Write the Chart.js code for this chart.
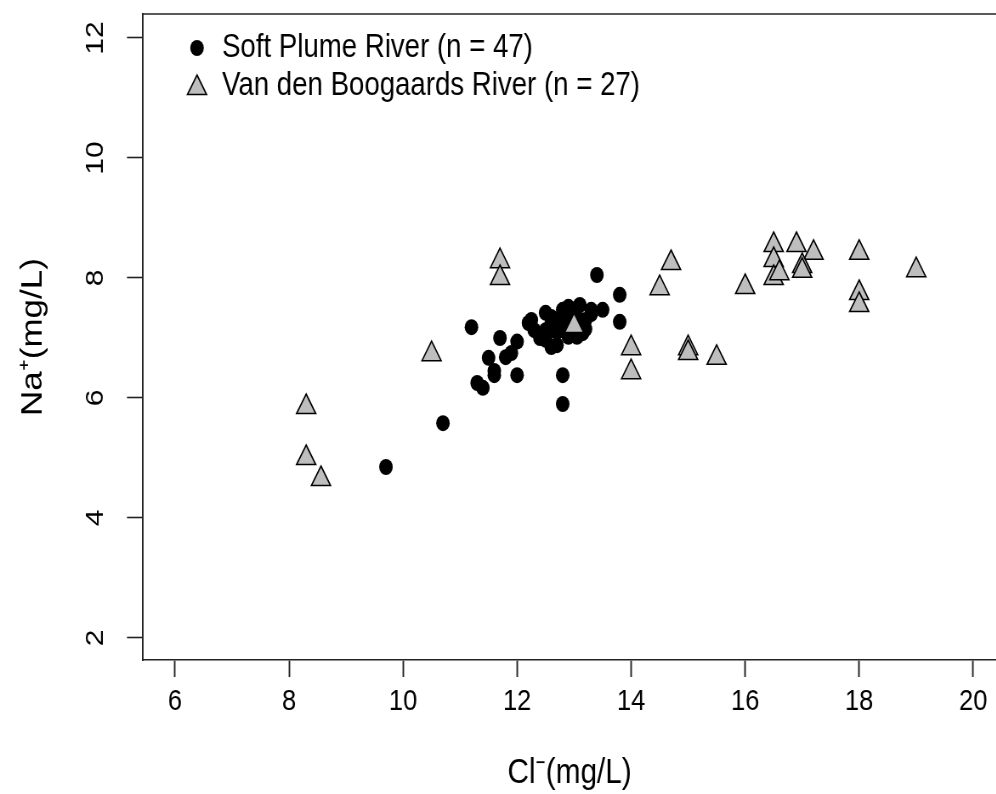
<!DOCTYPE html>
<html>
<head>
<meta charset="utf-8">
<title>Na vs Cl</title>
<script src="https://cdn.jsdelivr.net/npm/chart.js@4.4.1/dist/chart.umd.min.js"></script>
<style>
  html, body { margin: 0; padding: 0; background: #fff; overflow: hidden; width: 996px; height: 794px; }
  /* the plot is laid out wide and then narrowed to 996px */
  #wrap { width: 1172px; height: 794px; transform: scaleX(0.85); transform-origin: 0 0; }
</style>
</head>
<body>
<div id="wrap"><canvas id="myChart" width="1172" height="794"></canvas></div>
<script>
// Soft Plume River samples: Cl- (x) and Na+ (y), mg/L
var softX = [9.7, 10.7, 11.2, 11.3, 11.4, 11.5, 11.6, 11.6, 11.7, 11.8,
  11.9, 12.0, 12.0, 12.25, 12.3, 12.5, 12.6, 12.5, 12.6, 12.5,
  12.5, 12.8, 12.9, 13.1, 13.3, 13.2, 13.15, 13.05, 12.8, 12.8,
  12.8, 13.4, 13.8, 13.8, 13.5, 12.7, 12.9, 13.0, 13.2, 12.4,
  12.7, 13.0, 12.6, 13.3, 12.2, 12.9, 13.1];
var softY = [4.85, 5.58, 7.18, 6.25, 6.17, 6.67, 6.45, 6.38, 7.0, 6.68,
  6.75, 6.94, 6.38, 7.3, 7.13, 7.42, 7.25, 6.97, 6.85, 7.02,
  7.13, 7.47, 7.52, 7.55, 7.47, 7.3, 7.08, 7.02, 7.3, 6.38,
  5.9, 8.05, 7.72, 7.27, 7.47, 6.88, 7.2, 7.4, 7.15, 7.0,
  7.1, 7.1, 7.35, 7.4, 7.25, 7.02, 7.3];

// Van den Boogaards River samples
var vdbX = [8.3, 8.3, 8.56, 10.5, 11.7, 11.7, 13.0, 14.5, 14.7, 14.0,
  14.0, 15.0, 15.0, 15.5, 16.0, 16.5, 16.5, 16.5, 16.6, 16.9,
  17.2, 17.0, 17.0, 18.0, 18.0, 18.0, 19.0];
var vdbY = [5.85, 5.0, 4.65, 6.73, 8.28, 8.0, 7.2, 7.83, 8.25, 6.83,
  6.43, 6.83, 6.75, 6.67, 7.85, 8.55, 8.3, 8.0, 8.08, 8.55,
  8.42, 8.2, 8.12, 8.42, 7.75, 7.55, 8.13];

var seriesNames = ['Soft Plume River (n = 47)', 'Van den Boogaards River (n = 27)'];
var xTickValues = [6, 8, 10, 12, 14, 16, 18, 20];
var yTickValues = [2, 4, 6, 8, 10, 12];

var FONT = '"Liberation Sans", Arial, sans-serif';
var TRI_GREY = '#bebebe';
var SX = 0.85; // horizontal squeeze applied by #wrap

function toPoints(xs, ys) {
  return xs.map(function (x, i) { return { x: x, y: ys[i] }; });
}

function drawTriangle(ctx, x, y, r) {
  ctx.beginPath();
  for (var k = 0; k < 3; k++) {
    var a = k * 2 * Math.PI / 3;
    var px = x + Math.sin(a) * r, py = y - Math.cos(a) * r;
    if (k === 0) ctx.moveTo(px, py); else ctx.lineTo(px, py);
  }
  ctx.closePath();
  ctx.fillStyle = TRI_GREY;
  ctx.fill();
  ctx.lineWidth = 1.6;
  ctx.strokeStyle = '#000';
  ctx.stroke();
}

// box top line + key in the upper-left corner
var boxAndKey = {
  id: 'boxAndKey',
  afterDraw: function (chart) {
    var ctx = chart.ctx, a = chart.chartArea;
    ctx.save();
    ctx.strokeStyle = '#222';
    ctx.lineWidth = 1.6;
    ctx.beginPath();
    ctx.moveTo(a.left, a.top);
    ctx.lineTo(a.right, a.top);
    ctx.stroke();

    var kx = a.left + 54 / SX, ky = a.top + 34, gap = 38;
    ctx.fillStyle = '#000';
    ctx.beginPath();
    ctx.arc(kx, ky, 8, 0, Math.PI * 2);
    ctx.fill();
    drawTriangle(ctx, kx, ky + gap + 2, 13);

    ctx.fillStyle = '#000';
    ctx.font = '32.5px ' + FONT;
    ctx.textBaseline = 'middle';
    ctx.textAlign = 'left';
    ctx.fillText(seriesNames[0], kx + 25 / SX, ky);
    ctx.fillText(seriesNames[1], kx + 25 / SX, ky + gap);
    ctx.restore();
  }
};

function noPad(scale) {
  scale.paddingLeft = 0;
  scale.paddingRight = 0;
  scale.paddingTop = 0;
  scale.paddingBottom = 0;
}

var ctx = document.getElementById('myChart');
var myChart = new Chart(ctx, {
  type: 'scatter',
  data: {
    datasets: [{
      label: seriesNames[1],
      data: toPoints(vdbX, vdbY),
      pointStyle: 'triangle',
      pointRadius: 13,
      backgroundColor: TRI_GREY,
      borderColor: '#000',
      borderWidth: 1.6,
      order: 0
    }, {
      label: seriesNames[0],
      data: toPoints(softX, softY),
      pointStyle: 'circle',
      pointRadius: 8,
      backgroundColor: '#000',
      borderColor: '#000',
      borderWidth: 0,
      order: 1
    }]
  },
  options: {
    responsive: false,
    animation: false,
    devicePixelRatio: 1,
    layout: { autoPadding: false, padding: { top: 14, right: 0, left: 0, bottom: 0 } },
    plugins: {
      legend: { display: false },
      tooltip: { enabled: false }
    },
    scales: {
      x: {
        type: 'linear',
        min: 5.4386,
        max: 20.4035,
        afterBuildTicks: function (scale) {
          scale.ticks = xTickValues.map(function (v) { return { value: v }; });
        },
        afterFit: function (scale) { scale.height = 134; noPad(scale); },
        grid: { drawOnChartArea: false, drawTicks: true, tickLength: 17, tickColor: '#222', tickWidth: 1.9 },
        border: { display: true, color: '#222', width: 1.6 },
        ticks: { color: '#000', font: { family: FONT, size: 30 }, padding: 7, maxRotation: 0, autoSkip: false },
        title: {
          display: true,
          text: 'Cl\u207B(mg/L)',
          color: '#000',
          font: { family: FONT, size: 35 },
          padding: { top: 0, bottom: 0 }
        }
      },
      y: {
        type: 'linear',
        min: 1.6333,
        max: 12.4,
        afterBuildTicks: function (scale) {
          scale.ticks = yTickValues.map(function (v) { return { value: v }; });
        },
        afterFit: function (scale) { scale.width = 143 / SX; noPad(scale); },
        grid: { drawOnChartArea: false, drawTicks: true, tickLength: 16 / SX, tickColor: '#222', tickWidth: 1.6 },
        border: { display: true, color: '#222', width: 1.9 },
        ticks: {
          color: '#000', font: { family: FONT, size: 30 },
          minRotation: 90, maxRotation: 90, crossAlign: 'center', padding: 20, autoSkip: false
        },
        title: {
          display: true,
          text: 'Na\u207A(mg/L)',
          color: '#000',
          font: { family: FONT, size: 35 },
          padding: { top: 18, bottom: 0 }
        }
      }
    }
  },
  plugins: [boxAndKey]
});
</script>
</body>
</html>
